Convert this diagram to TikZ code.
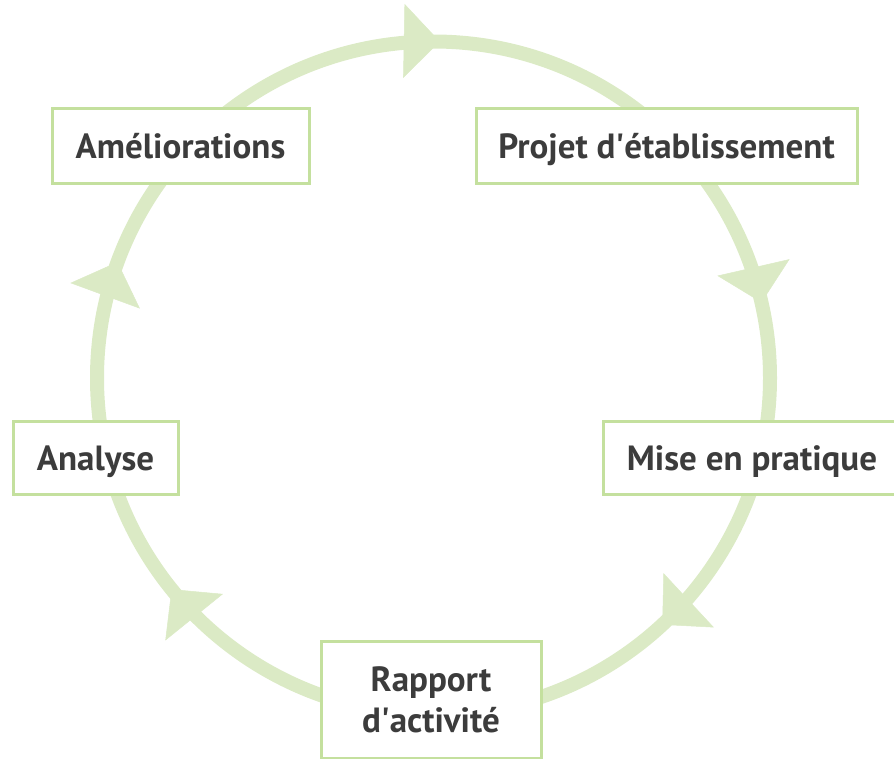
\documentclass[tikz,border=0pt]{standalone}
\usepackage{fontspec}
\setmainfont{PT Sans}
\usetikzlibrary{arrows.meta,decorations.markings}

\definecolor{ringgreen}{RGB}{219,234,197}
\definecolor{boxgreen}{RGB}{196,224,158}
\definecolor{labelgray}{RGB}{60,60,60}

\tikzset{
  stagebox/.style={draw=boxgreen,line width=3pt,fill=white,inner sep=0pt,
    text=labelgray,font=\fontsize{35}{41}\selectfont\bfseries,align=center},
  oneline/.style={text height=30pt,text depth=5pt},
  ring/.style={draw=ringgreen,line width=14pt,postaction=decorate,
    decoration={markings,
      mark=at position 0.131 with {\arrow[ringgreen]{Triangle[width=74pt,length=36pt,line width=0.5pt]}},
      mark=at position 0.392 with {\arrow[ringgreen]{Triangle[width=74pt,length=36pt,line width=0.5pt]}},
      mark=at position 0.556 with {\arrow[ringgreen]{Triangle[width=74pt,length=36pt,line width=0.5pt]}},
      mark=at position 0.753 with {\arrow[ringgreen]{Triangle[width=74pt,length=36pt,line width=0.5pt]}},
      mark=at position 0.964 with {\arrow[ringgreen]{Triangle[width=74pt,length=36pt,line width=0.5pt]}}}}
}

\begin{document}
\begin{tikzpicture}[x=1pt,y=-1pt]
\clip (0,0) rectangle (894,758);

% the cycle
\coordinate (hub) at (433.5,378);
\path[ring] (hub) ++(0:336.5pt) arc[start angle=360,end angle=0,radius=336.5pt];

% the stages
\node[stagebox,oneline,minimum width=257pt,minimum height=75pt] (amel) at (180.5,145.5) {Améliorations};
\node[stagebox,oneline,minimum width=381pt,minimum height=75pt] (projet) at (666.5,145.5) {Projet d\textquotesingle établissement};
\node[stagebox,oneline,minimum width=298pt,minimum height=73pt] (mise) at (752,457.5) {Mise en pratique};
\node[stagebox,minimum width=220pt,minimum height=117pt] (rapport) at (431,699.5) {Rapport\\d\textquotesingle activité};
\node[stagebox,oneline,minimum width=165pt,minimum height=73pt] (analyse) at (95.5,457.5) {Analyse};
\end{tikzpicture}
\end{document}
